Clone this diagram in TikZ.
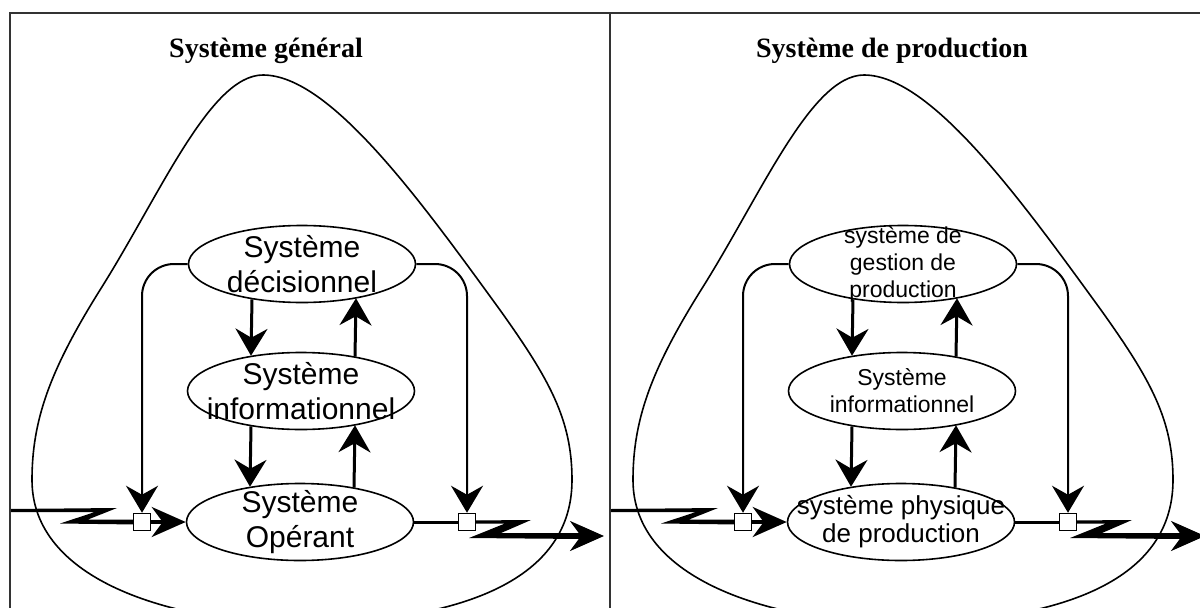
\documentclass[tikz,border=0pt]{standalone}
\usepackage{fontspec}
\setmainfont{Liberation Sans}
\newfontfamily\titlefont{Liberation Serif}
\usetikzlibrary{arrows.meta,shapes.geometric}

\tikzset{
  frame/.style={line width=2.2pt, draw=black!80},
  drop/.style={line width=1.6pt},
  sysbox/.style={ellipse, draw, line width=1.6pt, minimum width=227pt,
    minimum height=77pt, inner sep=0pt},
  bigtip/.style={-{Stealth[length=27pt,width=32pt,inset=9pt]}},
  flow/.style={line width=3pt, bigtip},
  inflow/.style={line width=3.5pt, -{Stealth[length=34pt,width=30pt,inset=11pt]}},
  feed/.style={line width=2pt, bigtip, rounded corners=32pt},
  gate/.style={draw, fill=white, line width=1.5pt, minimum size=17pt, inner sep=0pt},
  bar/.style={line width=3pt},
  lfont/.style={font=\fontsize{30}{35}\selectfont, align=center, inner sep=0pt},
  rfont/.style={font=\fontsize{23}{27}\selectfont, align=center, inner sep=0pt},
  ropfont/.style={font=\fontsize{26}{28}\selectfont, align=center, inner sep=0pt},
  titletext/.style={font=\titlefont\bfseries\fontsize{28}{30}\selectfont, anchor=base},
}

% One panel: #1 name prefix, #2 horizontal offset, #3 font of the two upper
% systems, #4 decision text, #5 information text, #6 operating text, #7 its font
\newcommand\drawpanel[7]{%
\begin{scope}[xshift=#2]
  % enclosing drop-shaped boundary
  \draw[drop] (263,75) .. controls (330,75) and (420,200) .. (500,310)
    .. controls (550,380) and (572,420) .. (572,480)
    .. controls (572,590) and (440,622) .. (300,624)
    .. controls (170,622) and (32,580) .. (32,480)
    .. controls (32,420) and (50,370) .. (100,290)
    .. controls (160,195) and (210,75) .. (263,75) -- cycle;
  % the three subsystems (fixed outlines, texts may run over them)
  \node[sysbox, label={[#3]center:#4}] (#1dec) at (302,264) {};
  \node[sysbox, label={[#3]center:#5}] (#1inf) at (301,391) {};
  \node[sysbox, label={[#7]center:#6}] (#1ope) at (300,522) {};
  % incoming flow with its zigzag
  \fill (10,509) -- (117,508) -- (88,519.5) -- (136,519.5) -- (136,524.5)
        -- (60,523.5) -- (95,512) -- (10,512) -- cycle;
  % outgoing flow with its zigzag
  \fill (470,520.5) -- (531,520) -- (501,533) -- (582,533) -- (582,539)
        -- (469,538) -- (505,523.5) -- (470,523.5) -- cycle;
  \coordinate (#1bar) at (572,536);
  \coordinate (#1end) at (604,536);
  % control gates on the flows
  \node[gate] (#1gin) at (142,522) {};
  \node[gate] (#1gout) at (467,522) {};
  % links between subsystems
  \draw[flow] ([shift={(-50,-4)}]#1dec.south) -- ([shift={(-50,4)}]#1inf.north);
  \draw[flow] ([shift={(54,5)}]#1inf.north) -- ([shift={(54,-5)}]#1dec.south);
  \draw[flow] ([shift={(-50,-4)}]#1inf.south) -- ([shift={(-50,4)}]#1ope.north);
  \draw[flow] ([shift={(54,5)}]#1ope.north) -- ([shift={(54,-5)}]#1inf.south);
  % decisions acting on the gates
  \draw[feed] (#1dec.west) -| (#1gin.north);
  \draw[feed] (#1dec.east) -| (#1gout.north);
  % flow through the operating system
  \draw[inflow] (#1gin.east) -- (#1ope.west);
  \draw[bar] (#1ope.east) -- (#1gout.west);
  \draw[inflow] (#1bar) -- (#1end);
\end{scope}}

\begin{document}
\begin{tikzpicture}[x=1pt, y=-1pt]
  \useasboundingbox (0,0) rectangle (1200,608);
  \clip (0,0) rectangle (1200,608);
  \fill[white] (0,0) rectangle (1200,608);

  \drawpanel{L}{0pt}{lfont}{Système\\décisionnel}{Système\\informationnel}
    {Système\\Opérant}{lfont}
  \drawpanel{R}{601pt}{rfont}{système de\\gestion de\\production}
    {Système\\informationnel}{système physique\\de production}{ropfont}

  % panel frame
  \draw[frame] (10,608) -- (10,13) -- (1200,13);
  \draw[frame] (610,13) -- (610,608);

  % panel titles
  \node[titletext] (tL) at (266,57) {Système général};
  \node[titletext] (tR) at (892,57) {Système de production};
\end{tikzpicture}
\end{document}
